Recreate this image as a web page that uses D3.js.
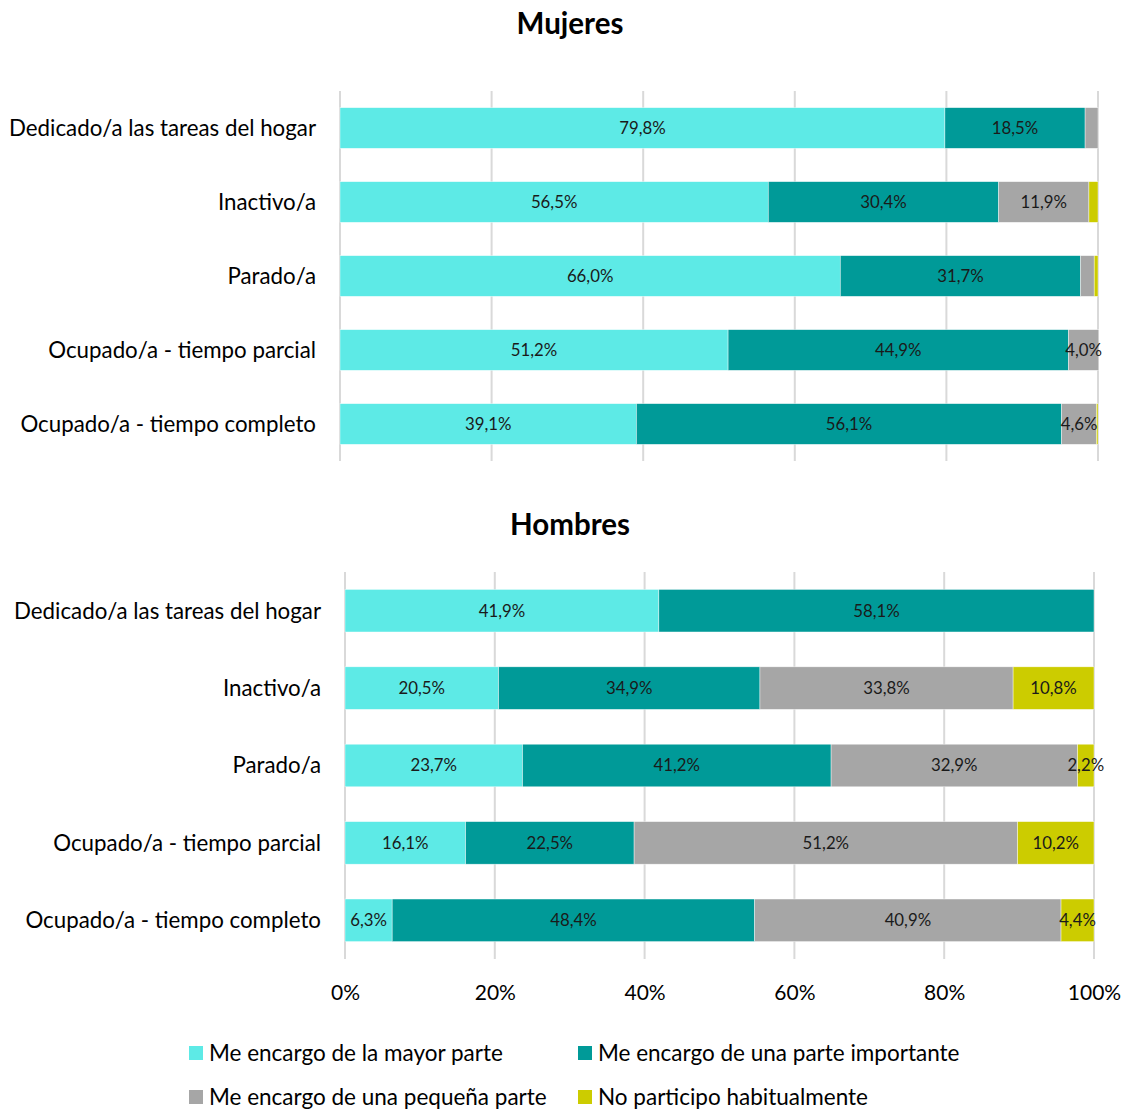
<!DOCTYPE html>
<html>
<head>
<meta charset="utf-8">
<script src="https://cdn.jsdelivr.net/npm/d3@7"></script>
<style>
  html, body { margin: 0; padding: 0; background: #fff; }
  svg { display: block; font-family: Lato, "Open Sans", sans-serif; }
</style>
</head>
<body>
<svg id="chart" width="1128" height="1113"></svg>
<script>
// Situation categories (top to bottom)
const categories = [
  "Dedicado/a las tareas del hogar",
  "Inactivo/a",
  "Parado/a",
  "Ocupado/a - tiempo parcial",
  "Ocupado/a - tiempo completo"
];

// Answer series
const seriesNames = [
  "Me encargo de la mayor parte",
  "Me encargo de una parte importante",
  "Me encargo de una pequeña parte",
  "No participo habitualmente"
];
const seriesColors = ["#5DEAE6", "#009A98", "#A6A6A6", "#CCCC00"];

// Women: one array per series, aligned with categories (%)
const mujeresMayor      = [79.8, 56.5, 66.0, 51.2, 39.1];
const mujeresImportante = [18.5, 30.4, 31.7, 44.9, 56.1];
const mujeresPequena    = [1.7, 11.9, 1.8, 4.0, 4.6];
const mujeresNoParticipa= [0.0, 1.2, 0.5, 0.0, 0.2];

// Men
const hombresMayor      = [41.9, 20.5, 23.7, 16.1, 6.3];
const hombresImportante = [58.1, 34.9, 41.2, 22.5, 48.4];
const hombresPequena    = [0.0, 33.8, 32.9, 51.2, 40.9];
const hombresNoParticipa= [0.0, 10.8, 2.2, 10.2, 4.4];

const tickValues = [0, 20, 40, 60, 80, 100];
const tickLabels = ["0%", "20%", "40%", "60%", "80%", "100%"];

const svg = d3.select("#chart");
const fmt = v => v.toFixed(1).replace(".", ",") + "%";

function buildRows(series) {
  return categories.map((c, i) => {
    const row = { cat: c };
    seriesNames.forEach((s, k) => { row[s] = series[k][i]; });
    return row;
  });
}

function drawPanel(opts) {
  const { title, titleY, x0, x1, y0, y1, labelX, rows, showAxis } = opts;
  const g = svg.append("g");

  const x = d3.scaleLinear().domain([0, 100]).range([x0, x1]);
  const y = d3.scaleBand().domain(categories).range([y0, y1]).paddingInner(0.45).paddingOuter(0.225);

  g.append("text")
    .attr("x", 570).attr("y", titleY)
    .attr("text-anchor", "middle")
    .attr("font-size", 29.5).attr("font-weight", "bold")
    .attr("fill", "#000")
    .text(title);

  // vertical gridlines
  g.append("g").selectAll("line").data(tickValues).join("line")
    .attr("x1", d => x(d)).attr("x2", d => x(d))
    .attr("y1", y0).attr("y2", y1)
    .attr("stroke", "#D9D9D9").attr("stroke-width", 2);

  const stack = d3.stack().keys(seriesNames)(rows);

  const layers = g.append("g").selectAll("g").data(stack).join("g")
    .attr("fill", (d, i) => seriesColors[i]);

  layers.selectAll("rect").data(d => d).join("rect")
    .attr("x", d => x(d[0]))
    .attr("width", d => Math.max(0, x(d[1]) - x(d[0])))
    .attr("y", d => y(d.data.cat))
    .attr("height", y.bandwidth())
    .attr("stroke", "#fff").attr("stroke-width", 0.6).attr("stroke-opacity", 0.7);

  // value labels
  const labels = g.append("g");
  stack.forEach(layer => {
    layer.forEach(d => {
      const v = d.data[layer.key];
      if (v < 2) return;
      labels.append("text")
        .attr("x", (x(d[0]) + x(d[1])) / 2)
        .attr("y", y(d.data.cat) + y.bandwidth() / 2)
        .attr("dy", "0.35em")
        .attr("text-anchor", "middle")
        .attr("font-size", 16.8)
        .attr("fill", "#1a1a1a")
        .text(fmt(v));
    });
  });

  // category labels
  g.append("g").selectAll("text").data(categories).join("text")
    .attr("x", labelX)
    .attr("y", d => y(d) + y.bandwidth() / 2)
    .attr("dy", "0.35em")
    .attr("text-anchor", "end")
    .attr("font-size", 22.3)
    .attr("fill", "#000")
    .text(d => d);

  if (showAxis) {
    const axis = d3.axisBottom(x).tickValues(tickValues)
      .tickFormat((d, i) => tickLabels[i]).tickSize(0).tickPadding(0);
    const ax = g.append("g").attr("transform", `translate(0,${y1})`).call(axis);
    ax.select(".domain").remove();
    ax.selectAll("text")
      .attr("y", 34).attr("dy", "0.35em")
      .attr("font-size", 21).attr("fill", "#000")
      .attr("font-family", "Lato, 'Open Sans', sans-serif");
  }
}

drawPanel({
  title: "Mujeres", titleY: 34,
  x0: 340, x1: 1098, y0: 91, y1: 461, labelX: 316,
  rows: buildRows([mujeresMayor, mujeresImportante, mujeresPequena, mujeresNoParticipa]),
  showAxis: false
});

drawPanel({
  title: "Hombres", titleY: 535,
  x0: 345, x1: 1094, y0: 572, y1: 959, labelX: 321,
  rows: buildRows([hombresMayor, hombresImportante, hombresPequena, hombresNoParticipa]),
  showAxis: true
});

// legend
const legendPos = [[189, 1053], [578, 1053], [189, 1097], [578, 1097]];
const legend = svg.append("g").selectAll("g").data(seriesNames).join("g")
  .attr("transform", (d, i) => `translate(${legendPos[i][0]},${legendPos[i][1]})`);
legend.append("rect")
  .attr("x", 0).attr("y", -7).attr("width", 14).attr("height", 14)
  .attr("fill", (d, i) => seriesColors[i]);
legend.append("text")
  .attr("x", 20).attr("y", 0).attr("dy", "0.35em")
  .attr("font-size", 22.5).attr("fill", "#000")
  .text(d => d);
</script>
</body>
</html>
